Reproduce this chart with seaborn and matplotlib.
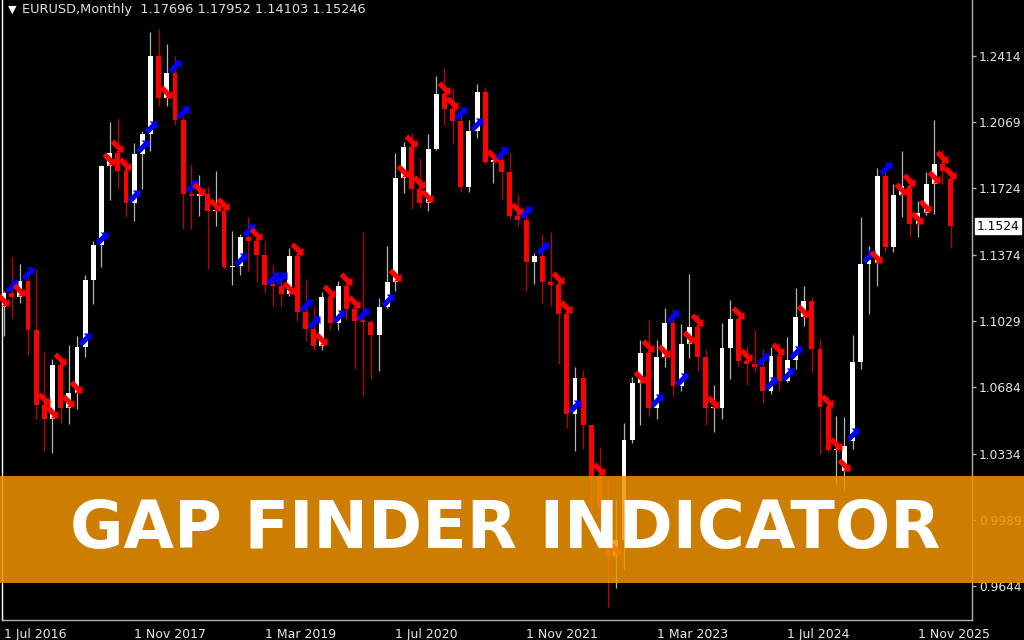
import numpy as np
import pandas as pd
import matplotlib
matplotlib.use("Agg")
import matplotlib.pyplot as plt
import matplotlib.transforms as mtransforms
from matplotlib.patches import Rectangle
import seaborn as sns

# ---------------- data (EURUSD monthly) ----------------
months = pd.period_range("2016-07", "2026-03", freq="M")
opens = [1.1103, 1.1174, 1.1157, 1.1240, 1.0981, 1.0588, 1.0517, 1.0797, 1.0575, 1.0652,
         1.0895, 1.1245, 1.1426, 1.1840, 1.1908, 1.1813, 1.1645, 1.1904, 1.2005, 1.2413,
         1.2193, 1.2324, 1.2081, 1.1693, 1.1684, 1.1692, 1.1602, 1.1604, 1.1312, 1.1316,
         1.1467, 1.1448, 1.1372, 1.1217, 1.1214, 1.1168, 1.1371, 1.1075, 1.0986, 1.0899,
         1.1152, 1.1017, 1.1213, 1.1093, 1.1027, 1.1025, 1.0954, 1.1101, 1.1234, 1.1778,
         1.1937, 1.1721, 1.1647, 1.1926, 1.2215, 1.2136, 1.2075, 1.1730, 1.2020, 1.2227,
         1.1858, 1.1870, 1.1808, 1.1578, 1.1557, 1.1338, 1.1370, 1.1235, 1.1218, 1.1067,
         1.0545, 1.0733, 1.0484, 1.0220, 1.0054, 0.9802, 0.9883, 1.0405, 1.0705, 1.0863,
         1.0576, 1.0839, 1.1016, 1.0689, 1.0910, 1.0998, 1.0843, 1.0573, 1.0575, 1.0887,
         1.1039, 1.0819, 1.0805, 1.0790, 1.0665, 1.0848, 1.0713, 1.0826, 1.1048, 1.1135,
         1.0884, 1.0577, 1.0354, 1.0245, 1.0400, 1.0816, 1.1329, 1.1330, 1.1787, 1.1416,
         1.1686, 1.1734, 1.1535, 1.1596, 1.1745, 1.1850, 1.17696]
highs = [1.1186, 1.1366, 1.1328, 1.1258, 1.1300, 1.0874, 1.0829, 1.0829, 1.0906, 1.0950,
         1.1268, 1.1445, 1.1846, 1.2070, 1.2092, 1.1880, 1.1961, 1.2023, 1.2537, 1.2555,
         1.2476, 1.2414, 1.2097, 1.1852, 1.1791, 1.1734, 1.1815, 1.1625, 1.1500, 1.1486,
         1.1570, 1.1489, 1.1448, 1.1324, 1.1265, 1.1412, 1.1380, 1.1249, 1.1109, 1.1179,
         1.1176, 1.1239, 1.1239, 1.1096, 1.1495, 1.1040, 1.1147, 1.1422, 1.1909, 1.1966,
         1.2011, 1.1881, 1.2004, 1.2310, 1.2349, 1.2243, 1.2113, 1.2081, 1.2266, 1.2254,
         1.1909, 1.1909, 1.1909, 1.1692, 1.1616, 1.1386, 1.1483, 1.1495, 1.1234, 1.1076,
         1.0787, 1.0774, 1.0486, 1.0368, 1.0198, 1.0094, 1.0497, 1.0736, 1.0929, 1.1033,
         1.0930, 1.1095, 1.1092, 1.1012, 1.1276, 1.1065, 1.0882, 1.0695, 1.1017, 1.1140,
         1.1046, 1.0898, 1.0981, 1.0885, 1.0895, 1.0916, 1.0948, 1.1202, 1.1214, 1.1154,
         1.0937, 1.0630, 1.0533, 1.0528, 1.0955, 1.1573, 1.1419, 1.1829, 1.1830, 1.1743,
         1.1918, 1.1778, 1.1655, 1.1808, 1.2082, 1.1930, 1.17952]
lows = [1.0952, 1.1046, 1.1122, 1.0852, 1.0518, 1.0352, 1.0340, 1.0494, 1.0493, 1.0569,
        1.0839, 1.1118, 1.1312, 1.1662, 1.1717, 1.1575, 1.1554, 1.1717, 1.1915, 1.2153,
        1.2155, 1.2055, 1.1510, 1.1508, 1.1576, 1.1300, 1.1526, 1.1302, 1.1216, 1.1269,
        1.1289, 1.1234, 1.1176, 1.1110, 1.1107, 1.1160, 1.1028, 1.0926, 1.0879, 1.0879,
        1.0981, 1.0981, 1.1036, 1.0778, 1.0636, 1.0727, 1.0767, 1.1098, 1.1185, 1.1696,
        1.1612, 1.1622, 1.1603, 1.1925, 1.2055, 1.1952, 1.1704, 1.1704, 1.1986, 1.1847,
        1.1752, 1.1664, 1.1563, 1.1524, 1.1186, 1.1222, 1.1121, 1.1106, 1.0806, 1.0471,
        1.0349, 1.0359, 0.9952, 0.9901, 0.9536, 0.9632, 0.9730, 1.0393, 1.0483, 1.0533,
        1.0516, 1.0788, 1.0635, 1.0662, 1.0834, 1.0766, 1.0488, 1.0448, 1.0517, 1.0724,
        1.0795, 1.0695, 1.0762, 1.0601, 1.0650, 1.0668, 1.0709, 1.0778, 1.1002, 1.0761,
        1.0332, 1.0343, 1.0178, 1.0141, 1.0360, 1.0778, 1.1065, 1.1210, 1.1392, 1.1391,
        1.1574, 1.1469, 1.1468, 1.1585, 1.1590, 1.1745, 1.14103]
closes = [1.1174, 1.1157, 1.1240, 1.0981, 1.0588, 1.0517, 1.0797, 1.0575, 1.0652, 1.0895,
          1.1245, 1.1426, 1.1840, 1.1908, 1.1813, 1.1645, 1.1904, 1.2005, 1.2413, 1.2193,
          1.2324, 1.2081, 1.1693, 1.1684, 1.1692, 1.1602, 1.1604, 1.1312, 1.1316, 1.1467,
          1.1448, 1.1372, 1.1217, 1.1214, 1.1168, 1.1371, 1.1075, 1.0986, 1.0899, 1.1152,
          1.1017, 1.1213, 1.1093, 1.1027, 1.1025, 1.0954, 1.1101, 1.1234, 1.1778, 1.1937,
          1.1721, 1.1647, 1.1926, 1.2215, 1.2136, 1.2075, 1.1730, 1.2020, 1.2227, 1.1858,
          1.1870, 1.1808, 1.1578, 1.1557, 1.1338, 1.1370, 1.1235, 1.1218, 1.1067, 1.0545,
          1.0733, 1.0484, 1.0220, 1.0054, 0.9802, 0.9883, 1.0405, 1.0705, 1.0863, 1.0576,
          1.0839, 1.1016, 1.0689, 1.0910, 1.0998, 1.0843, 1.0573, 1.0575, 1.0887, 1.1039,
          1.0819, 1.0805, 1.0790, 1.0665, 1.0848, 1.0713, 1.0826, 1.1048, 1.1135, 1.0884,
          1.0577, 1.0354, 1.0362, 1.0375, 1.0816, 1.1329, 1.1347, 1.1787, 1.1416, 1.1686,
          1.1734, 1.1535, 1.1596, 1.1745, 1.1850, 1.1815, 1.15246]
# gap marks per candle: r = gap down arrow, b = gap up arrow, - = none
gap_marks = ("rbrb-rrrrr" "b-brrrbbb-" "rbbbr-rr-b" "br-bbrrbbr" "rbrrb--brr"
             "rrr-rrb-b-" "rb-rb-b-rr" "b--r-r--rr" "brbbrr-r--" "rr-bbrbbr-"
             "-rrrb-brb-" "rrrrrrr")
price_ticks = [1.2414, 1.2069, 1.1724, 1.1374, 1.1029, 1.0684, 1.0334, 0.9989, 0.9644]
date_tick_idx = [0, 16, 32, 48, 64, 80, 96, 112]
header = "EURUSD,Monthly  1.17696 1.17952 1.14103 1.15246"
current_label = "1.1524"
banner_text = "GAP FINDER INDICATOR"

# ---------------- styling ----------------
sns.set_theme(style="dark")
plt.rcParams["font.family"] = ["DejaVu Sans"]

W, H = 1024, 640
fig = plt.figure(figsize=(W / 100, H / 100), dpi=100, facecolor="black")
ax = fig.add_axes([2 / W, 20 / H, 970 / W, 620 / H])
ax.set_facecolor("black")

df = pd.DataFrame({"o": opens, "h": highs, "l": lows, "c": closes})
df["x"] = np.arange(len(df), dtype=float)
bull = df["c"] > df["o"]

step = 8.165
ax.set_xlim((2 - 3.5) / step, (972 - 3.5) / step)
ax.set_ylim(0.94665, 1.27065)

wick_col = np.where(bull, "#b4b4b4", "#c00000")
body_col = np.where(bull, "#ffffff", "#ff0000")
ax.vlines(df["x"], df["l"], df["h"], colors=wick_col, lw=0.9, zorder=2)
body_h = np.maximum((df["c"] - df["o"]).abs(), 0.0007)
ax.bar(df["x"], body_h, bottom=np.minimum(df["o"], df["c"]), width=0.6,
       color=body_col, linewidth=0, zorder=3)

# gap arrows
for i, m in enumerate(gap_marks):
    if m == "-":
        continue
    glyph, col, dx = ("\u2B0A", "#ff0000", -1.5) if m == "r" else ("\u2B08", "#0000ff", -0.5)
    ax.annotate(glyph, xy=(i, opens[i]), xytext=(dx, 6), textcoords="offset pixels",
                ha="center", va="center", color=col, fontsize=15,
                fontweight="bold", zorder=5, family="DejaVu Sans")

# axes look
ax.spines["top"].set_visible(False)
ax.spines["left"].set_color("#ffffff")
ax.spines["right"].set_color("#b0b0b0")
ax.spines["bottom"].set_color("#b0b0b0")
for s in ["left", "right", "bottom"]:
    ax.spines[s].set_linewidth(1.0)
ax.grid(False)

ax.yaxis.tick_right()
ax.set_yticks(price_ticks)
ax.set_yticklabels([f"{v:.4f}" for v in price_ticks])
ax.tick_params(axis="y", colors="#b0b0b0", labelcolor="#e6e6e6", labelsize=8.8,
               length=3, width=1, pad=2, direction="out")
ax.set_xticks(date_tick_idx)
ax.set_xticklabels([f"1 {months[i].strftime('%b %Y')}" for i in date_tick_idx],
                   ha="left")
ax.tick_params(axis="x", colors="#b0b0b0", labelcolor="#e6e6e6", labelsize=9,
               length=4, width=1, pad=2, direction="out")
ax.set_xlabel("")
ax.set_ylabel("")

# current price label
trans = mtransforms.blended_transform_factory(ax.transAxes, ax.transData)
ax.text(1.0 + 5 / 970, closes[-1], current_label, transform=trans, ha="left",
        va="center", fontsize=8.8, color="black",
        bbox=dict(facecolor="white", edgecolor="white", pad=1.2), zorder=6,
        clip_on=False)

# header
fig.text(8 / W, 1 - 10 / H, "\u25BC", color="#ffffff", fontsize=8, ha="left", va="center")
fig.text(22 / W, 1 - 10 / H, header, color="#e0e0e0", fontsize=9.3, ha="left", va="center")

# banner
fig.add_artist(Rectangle((0, 1 - 583 / H), 1, 107 / H, transform=fig.transFigure,
                         facecolor="#f09400", edgecolor="none", alpha=0.86, zorder=20))
fig.text(505 / W, 1 - 530 / H, banner_text, color="white", fontsize=47,
         fontweight="bold", family="DejaVu Sans", ha="center", va="center", zorder=21)

fig.savefig("out.png", dpi=100, facecolor="black")
